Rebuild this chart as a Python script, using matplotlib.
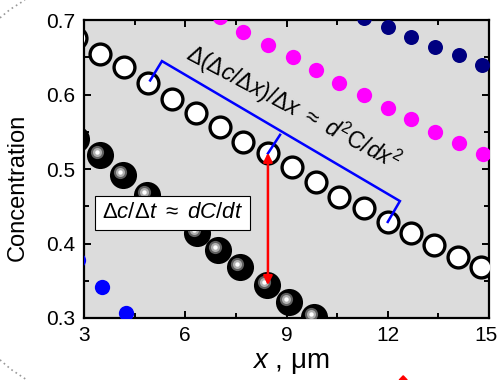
import matplotlib
matplotlib.use("Agg")
import matplotlib.pyplot as plt
from matplotlib import transforms
from matplotlib.lines import Line2D
from matplotlib.patches import Polygon

plt.rcParams['font.family'] = ['Liberation Sans', 'DejaVu Sans']
plt.rcParams['mathtext.fontset'] = 'custom'
plt.rcParams['mathtext.rm'] = 'Liberation Sans'
plt.rcParams['mathtext.it'] = 'Liberation Sans:italic'
plt.rcParams['mathtext.bf'] = 'Liberation Sans:bold'

# open circles (upper profile)
x_open = [2.77, 3.48, 4.20, 4.91, 5.62, 6.33, 7.02, 7.70, 8.44, 9.15, 9.86,
          10.57, 11.29, 12.00, 12.68, 13.37, 14.08, 14.76]
y_open = [0.676, 0.655, 0.637, 0.616, 0.594, 0.575, 0.556, 0.536, 0.522, 0.503,
          0.483, 0.462, 0.448, 0.429, 0.414, 0.398, 0.382, 0.368]

# black spheres (lower profile)
x_ball = [2.77, 3.48, 4.16, 4.87, 5.60, 6.36, 6.98, 7.63, 8.43, 9.06, 9.80]
y_ball = [0.541, 0.519, 0.492, 0.465, 0.440, 0.414, 0.391, 0.368, 0.344, 0.321, 0.301]

# small dots
x_mag = [7.04, 7.72, 8.46, 9.18, 9.86, 10.57, 11.29, 12.00, 12.68, 13.40, 14.10, 14.82]
y_mag = [0.704, 0.684, 0.666, 0.650, 0.633, 0.615, 0.600, 0.582, 0.567, 0.550, 0.535, 0.520]
x_navy = [11.29, 12.00, 12.70, 13.40, 14.10, 14.80]
y_navy = [0.703, 0.691, 0.677, 0.664, 0.653, 0.640]
x_blue = [2.82, 3.53, 4.25]
y_blue = [0.378, 0.342, 0.307]

# bracket + arrow annotations (data coords)
bracket_x = [4.96, 5.31, 12.36, 12.00]
bracket_y = [0.619, 0.645, 0.457, 0.429]
mid_tick_x = [8.81, 8.45]
mid_tick_y = [0.546, 0.521]
arrow_x = 8.45
arrow_y = (0.522, 0.344)

fig = plt.figure(figsize=(4.99, 3.8), dpi=100)
ax = fig.add_axes([0.1683, 0.1632, 0.8117, 0.7838])
ax.set_facecolor('#dcdcdc')

ax.plot(x_mag, y_mag, 'o', color='#ff00ff', ms=11, mec='none', zorder=3)
ax.plot(x_navy, y_navy, 'o', color='#000080', ms=10.8, mec='none', zorder=3)
ax.plot(x_blue, y_blue, 'o', color='#0000ff', ms=11, mec='none', zorder=3)

# spheres: black body + offset highlight
ax.plot(x_ball, y_ball, 'o', color='black', ms=19.5, mec='none', zorder=3)
hl = transforms.offset_copy(ax.transData, fig=fig, x=-3, y=3, units='dots')
ax.plot(x_ball, y_ball, 'o', color='#606060', ms=9.5, mec='none', transform=hl, zorder=3)
ax.plot(x_ball, y_ball, 'o', color='#b0b0b0', ms=6.5, mec='none', transform=hl, zorder=3)
ax.plot(x_ball, y_ball, 'o', color='white', ms=3.2, mec='none', transform=hl, zorder=3)

ax.plot(x_open, y_open, 'o', mfc='white', mec='black', ms=15, mew=2.4, zorder=4)

ax.plot(bracket_x, bracket_y, color='#0000ff', lw=1.8, zorder=5, solid_joinstyle='miter')
ax.plot(mid_tick_x, mid_tick_y, color='#0000ff', lw=1.8, zorder=5)

ax.annotate('', xy=(arrow_x, arrow_y[1]), xytext=(arrow_x, arrow_y[0]),
            arrowprops=dict(arrowstyle='<|-|>', color='red', lw=1.8,
                            mutation_scale=13, shrinkA=0, shrinkB=0), zorder=6)

ax.text(9.2, 0.583, r'$\Delta(\Delta c/\Delta x)/\Delta x\ \approx\ d^2\mathrm{C}/dx^2$',
        rotation=-28, rotation_mode='anchor', ha='center', va='center',
        fontsize=16.5, zorder=6)

ax.text(5.62, 0.441, r'$\Delta c/\Delta t\ \approx\ dC/dt$', ha='center', va='center',
        fontsize=16, zorder=6,
        bbox=dict(boxstyle='square,pad=0.3', fc='white', ec='black', lw=0.8))

ax.set_xlim(3, 15)
ax.set_ylim(0.3, 0.7)
ax.set_xticks([3, 6, 9, 12, 15])
ax.set_yticks([0.3, 0.4, 0.5, 0.6, 0.7])
ax.set_xticks([4.5, 7.5, 10.5, 13.5], minor=True)
ax.set_yticks([0.35, 0.45, 0.55, 0.65], minor=True)
ax.set_yticklabels(['0.3', '0.4', '0.5', '0.6', '0.7'])
ax.tick_params(which='both', direction='in', top=True, right=True, width=1.4,
               labelsize=15, pad=6)
ax.tick_params(which='major', length=5)
ax.tick_params(which='minor', length=3.5)
for s in ax.spines.values():
    s.set_linewidth(1.6)

# nudge the last x tick label so it stays inside the figure
last = ax.get_xticklabels()[-1]
last.set_transform(last.get_transform() +
                   transforms.ScaledTranslation(-3 / 100, 0, fig.dpi_scale_trans))

ax.set_xlabel(r'$x$ , μm', fontsize=20)
ax.set_ylabel('Concentration', fontsize=17)
ax.xaxis.set_label_coords(0.51, -0.108)
ax.yaxis.set_label_coords(-0.137, 0.44)

# dotted frame arcs and cut-off red marker at the figure edges
fig.add_artist(Line2D([0.0, 0.02, 0.05], [0.953, 0.975, 1.0], transform=fig.transFigure,
                      color='#999999', lw=1.2, ls=(0, (1, 2))))
fig.add_artist(Line2D([0.0, 0.022, 0.054], [0.053, 0.028, 0.0], transform=fig.transFigure,
                      color='#999999', lw=1.2, ls=(0, (1, 2))))
fig.add_artist(Polygon([[0.800, 0.0], [0.808, 0.011], [0.816, 0.0]], closed=True,
                       transform=fig.transFigure, color='red'))

fig.savefig('out.png', dpi=100)
